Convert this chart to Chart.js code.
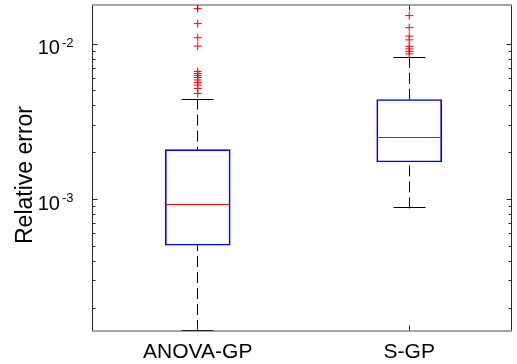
<!DOCTYPE html>
<html>
<head>
<meta charset="utf-8">
<script src="https://cdn.jsdelivr.net/npm/chart.js@4"></script>
<style>
  html, body { margin: 0; padding: 0; background: #fff; }
  #wrap { width: 517px; height: 364px; }
</style>
</head>
<body>
<div id="wrap"><canvas id="c" width="517" height="364"></canvas></div>
<script>
// Box-plot summary of relative error per method
const categories   = ['ANOVA-GP', 'S-GP'];
const q1           = [5.04e-4, 1.73e-3];
const median       = [9.29e-4, 2.51e-3];
const q3           = [2.08e-3, 4.37e-3];
const whiskerLow   = [1.414e-4, 8.70e-4];
const whiskerHigh  = [4.43e-3, 8.24e-3];
const outliersAnova = [0.01682, 0.01346, 0.01093, 0.00965, 0.00663, 0.00643, 0.00625,
                       0.00606, 0.00584, 0.00563, 0.00542, 0.00515, 0.00478];
const outliersSgp   = [0.01516, 0.01268, 0.01119, 0.01058, 0.00961, 0.00926, 0.00892, 0.00859];
const yTickExponents = [-3, -2];
const yMin = 1.414e-4;
const yMax = 0.01774;

const FONT = '"Liberation Sans", Arial, Helvetica, sans-serif';

const outlierPoints = [
  ...outliersAnova.map(v => ({ x: 1, y: v })),
  ...outliersSgp.map(v => ({ x: 2, y: v }))
];

// Whiskers, caps, medians, frame, ticks and labels drawn through the chart scales
const boxPlotDecor = {
  id: 'boxPlotDecor',
  beforeDatasetsDraw(chart) {
    const { ctx, scales: { x, y } } = chart;
    ctx.save();
    ctx.strokeStyle = '#000';
    ctx.lineWidth = 1;
    categories.forEach((c, i) => {
      const px = Math.floor(x.getPixelForValue(i + 1)) + 0.5;
      const yLo = y.getPixelForValue(whiskerLow[i]);
      const yHi = y.getPixelForValue(whiskerHigh[i]);
      const yQ1 = y.getPixelForValue(q1[i]);
      const yQ3 = y.getPixelForValue(q3[i]);
      ctx.setLineDash([11, 5]);
      ctx.beginPath();
      ctx.moveTo(px, yHi); ctx.lineTo(px, yQ3);
      ctx.moveTo(px, yLo); ctx.lineTo(px, yQ1);
      ctx.stroke();
      ctx.setLineDash([]);
      ctx.beginPath();
      const capHi = Math.round(yHi) + 0.5, capLo = Math.round(yLo) - 0.5;
      ctx.moveTo(px - 16, capHi); ctx.lineTo(px + 16, capHi);
      ctx.moveTo(px - 16, capLo); ctx.lineTo(px + 16, capLo);
      ctx.stroke();
    });
    ctx.restore();
  },
  afterDatasetsDraw(chart) {
    const { ctx, chartArea: a, scales: { x, y } } = chart;
    ctx.save();
    // medians
    ctx.strokeStyle = '#ff0000';
    ctx.lineWidth = 1;
    categories.forEach((c, i) => {
      const px = x.getPixelForValue(i + 1);
      const py = Math.round(y.getPixelForValue(median[i])) + 0.5;
      ctx.beginPath();
      ctx.moveTo(px - 32, py); ctx.lineTo(px + 32, py);
      ctx.stroke();
    });

    // frame: crisp sides, softer top and bottom edges
    ctx.lineWidth = 1;
    const L = Math.round(a.left) + 0.5, R = Math.round(a.right) - 0.5;
    const T = Math.round(a.top) + 0.5, B = Math.round(a.bottom) - 0.5;
    ctx.strokeStyle = '#4a4a4a';
    ctx.beginPath();
    ctx.moveTo(L - 0.5, T - 0.5); ctx.lineTo(R + 0.5, T - 0.5);
    ctx.moveTo(L - 0.5, B + 0.5); ctx.lineTo(R + 0.5, B + 0.5);
    ctx.stroke();
    ctx.strokeStyle = '#262626';
    ctx.beginPath();
    ctx.moveTo(L, T); ctx.lineTo(L, B);
    ctx.moveTo(R, T); ctx.lineTo(R, B);
    ctx.stroke();

    // y ticks (major + minor), inward on both sides
    ctx.beginPath();
    for (let e = -5; e <= -1; e++) {
      for (let k = 1; k <= 9; k++) {
        const v = k * Math.pow(10, e);
        if (v < yMin || v > yMax) continue;
        const py = Math.round(y.getPixelForValue(v)) + 0.5;
        const len = k === 1 ? 5 : 3;
        ctx.moveTo(L, py); ctx.lineTo(L + len, py);
        ctx.moveTo(R, py); ctx.lineTo(R - len, py);
      }
    }
    // x ticks at categories
    categories.forEach((c, i) => {
      const px = Math.floor(x.getPixelForValue(i + 1)) + 0.5;
      ctx.moveTo(px, B); ctx.lineTo(px, B - 5);
      ctx.moveTo(px, T); ctx.lineTo(px, T + 5);
    });
    ctx.stroke();

    // y tick labels 10^e
    ctx.fillStyle = '#000';
    ctx.textBaseline = 'alphabetic';
    yTickExponents.forEach(e => {
      const py = y.getPixelForValue(Math.pow(10, e));
      const sup = '-' + Math.abs(e);
      ctx.font = '13px ' + FONT;
      const supW = ctx.measureText(sup).width;
      const right = L - 19;
      ctx.textAlign = 'right';
      ctx.fillText(sup, right, py + 3);
      ctx.font = '20px ' + FONT;
      ctx.fillText('10', right - supW - 2, py + 10.5);
    });

    // category labels
    ctx.font = '21px ' + FONT;
    ctx.textAlign = 'center';
    categories.forEach((c, i) => {
      ctx.fillText(c, x.getPixelForValue(i + 1), 358);
    });

    // y axis title
    ctx.save();
    ctx.translate(32, 175);
    ctx.rotate(-Math.PI / 2);
    ctx.font = '23px ' + FONT;
    ctx.textAlign = 'center';
    ctx.fillText('Relative error', 0, 0);
    ctx.restore();

    ctx.restore();
  }
};

new Chart(document.getElementById('c'), {
  type: 'bar',
  data: {
    datasets: [
      {
        type: 'bar',
        label: 'IQR',
        data: categories.map((c, i) => ({ x: i + 1, y: [q1[i], q3[i]] })),
        backgroundColor: 'rgba(255,255,255,0)',
        borderColor: '#0000ff',
        borderWidth: 1,
        borderSkipped: false,
        barThickness: 65
      },
      {
        type: 'scatter',
        label: 'Outliers',
        data: outlierPoints,
        pointStyle: 'cross',
        pointRadius: 4,
        pointBorderWidth: 1,
        pointBorderColor: '#ff0000',
        pointBackgroundColor: '#ff0000'
      }
    ]
  },
  options: {
    responsive: false,
    animation: false,
    devicePixelRatio: 1,
    layout: { padding: { left: 92, right: 2, top: 5, bottom: 33 } },
    plugins: { legend: { display: false }, tooltip: { enabled: false } },
    scales: {
      x: { type: 'linear', min: 0.5, max: 2.486, display: false, offset: false },
      y: { type: 'logarithmic', min: yMin, max: yMax, display: false }
    }
  },
  plugins: [boxPlotDecor]
});
</script>
</body>
</html>
